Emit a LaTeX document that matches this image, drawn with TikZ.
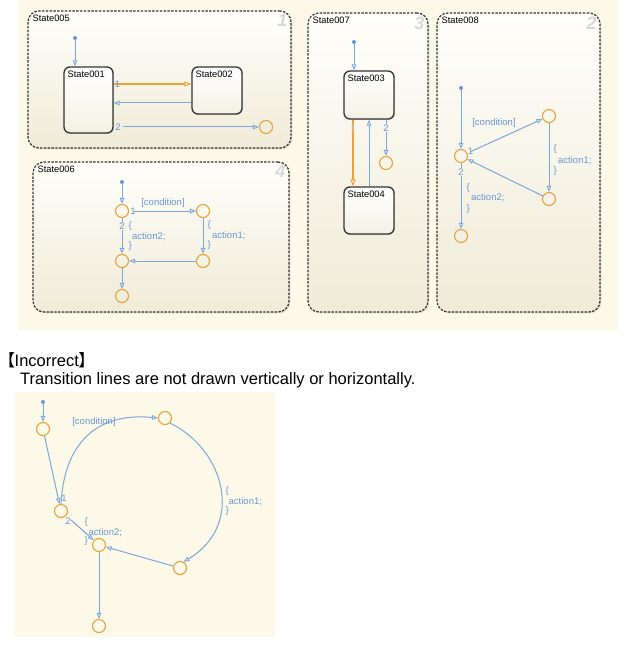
\documentclass[tikz,border=0pt]{standalone}
\usepackage{fontspec}
\setmainfont{Liberation Sans}
\newfontfamily\cjkfont{Noto Sans CJK JP}
\usetikzlibrary{arrows.meta,shadows,calc}

\definecolor{panelbg}{HTML}{FDF9E8}
\definecolor{boxtop}{HTML}{FFFEFA}
\definecolor{boxbot}{HTML}{F0EBD8}
\definecolor{tblue}{HTML}{7BA8DA}
\definecolor{lblue}{HTML}{6797D4}
\definecolor{jorange}{HTML}{E9A23A}
\definecolor{numgray}{HTML}{D8D8D8}

\tikzset{
  container/.style={draw=black!80, dash pattern=on 2.4pt off 1.4pt, line width=1.2pt,
    rounded corners=11pt, top color=boxtop, bottom color=boxbot,
    drop shadow={opacity=0.25, shadow xshift=1.3pt, shadow yshift=-1.3pt}},
  statebox/.style={draw=black!80, line width=1.3pt, rounded corners=6pt,
    top color=white, bottom color=boxbot!70!white,
    drop shadow={opacity=0.25, shadow xshift=1pt, shadow yshift=-1pt}},
  junc/.style={circle, draw=jorange, line width=1.1pt, minimum size=13pt, inner sep=0pt},
  initdot/.style={circle, fill=lblue, minimum size=4pt, inner sep=0pt},
  tip/.style={-{Triangle[open, length=6pt, width=4.5pt, line width=0.9pt]}},
  trans/.style={draw=tblue, line width=1pt, tip},
  otrans/.style={draw=jorange, line width=2.8pt,
    -{Triangle[open, length=7pt, width=5pt, line width=1pt]}},
  lbl/.style={text=lblue, font=\fontsize{9.5}{11}\selectfont, inner sep=0.5pt},
  numlbl/.style={lbl, fill=boxtop!45!boxbot, inner sep=1pt},
  stname/.style={font=\fontsize{9.3}{11}\selectfont, text=black, inner sep=1pt},
  bignum/.style={text=numgray, font=\fontsize{18}{18}\selectfont\bfseries\itshape, inner sep=0pt},
}

\begin{document}
\begin{tikzpicture}[x=1pt, y=-1pt]
\useasboundingbox (0,0) rectangle (642,655);
\fill[white] (0,0) rectangle (642,655);
\fill[panelbg] (18,0) rectangle (618,330);
\fill[panelbg] (15,392) rectangle (275,637);

% ---------- containers ----------
\node[container, minimum width=263pt, minimum height=137pt,
  label={[stname, anchor=north west, xshift=4pt, yshift=-3pt]north west:State005}] (c005) at (159.5,79.5) {};
\node[bignum, anchor=north east] (n1) at ($(c005.north east)+(-4pt,-4pt)$) {1};

\node[container, minimum width=256pt, minimum height=150pt,
  label={[stname, anchor=north west, xshift=4pt, yshift=-3pt]north west:State006}] (c006) at (161,237) {};
\node[bignum, anchor=north east] (n4) at ($(c006.north east)+(-4pt,-4pt)$) {4};

\node[container, minimum width=120pt, minimum height=299pt,
  label={[stname, anchor=north west, xshift=4pt, yshift=-3pt]north west:State007}] (c007) at (368,162.5) {};
\node[bignum, anchor=north east] (n3) at ($(c007.north east)+(-4pt,-4pt)$) {3};

\node[container, minimum width=163pt, minimum height=299pt,
  label={[stname, anchor=north west, xshift=4pt, yshift=-3pt]north west:State008}] (c008) at (518.5,162.5) {};
\node[bignum, anchor=north east] (n2) at ($(c008.north east)+(-4pt,-4pt)$) {2};

% ---------- State005 ----------
\node[statebox, minimum width=49pt, minimum height=66pt,
  label={[stname, anchor=north west, xshift=3pt, yshift=-3pt]north west:State001}] (s001) at (88.5,100) {};
\node[statebox, minimum width=50pt, minimum height=47pt,
  label={[stname, anchor=north west, xshift=3pt, yshift=-3pt]north west:State002}] (s002) at (217,90.5) {};
\node[initdot] (i5) at (75,38) {};
\node[junc] (j5) at (266,127) {};
\draw[trans] (i5) -- (s001.north -| i5);
\draw[otrans] (s001.east |- 0,84) -- (s002.west |- 0,84);
\node[lbl] (l5a) at (117.5,84) {1};
\draw[trans] (s002.west |- 0,103) -- (s001.east |- 0,103);
\draw[trans, shorten <=9pt] (s001.east |- j5) -- (j5);
\node[lbl] (l5b) at (118,127) {2};

% ---------- State006 ----------
\node[initdot] (i6) at (122,182) {};
\node[junc] (a6) at (122,211) {};
\node[junc] (b6) at (203,211) {};
\node[junc] (c6) at (122,261) {};
\node[junc] (d6) at (203,261) {};
\node[junc] (e6) at (122,296) {};
\draw[trans] (i6) -- (a6);
\draw[trans, shorten <=5pt] (a6) -- (b6);
\node[lbl] (l6a) at (133,211) {1};
\node[lbl] (l6c) at (163,203) {[condition]};
\draw[trans] (b6) -- (d6);
\node[lbl, anchor=west] (l6d) at (207,225) {\{};
\node[lbl, anchor=west] (l6e) at (211.5,236) {action1;};
\node[lbl, anchor=west] (l6f) at (207,245.5) {\}};
\draw[trans] (a6) -- (c6);
\node[numlbl] (l6b) at (122,226) {2};
\node[lbl, anchor=west] (l6g) at (128,226) {\{};
\node[lbl, anchor=west] (l6h) at (131.5,237) {action2;};
\node[lbl, anchor=west] (l6i) at (128,246) {\}};
\draw[trans] (d6) -- (c6);
\draw[trans] (c6) -- (e6);

% ---------- State007 ----------
\node[statebox, minimum width=50pt, minimum height=48pt,
  label={[stname, anchor=north west, xshift=3pt, yshift=-3pt]north west:State003}] (s003) at (369,95) {};
\node[statebox, minimum width=50pt, minimum height=47pt,
  label={[stname, anchor=north west, xshift=3pt, yshift=-3pt]north west:State004}] (s004) at (369,210.5) {};
\node[initdot] (i7) at (354,42) {};
\node[junc] (j7) at (386,163) {};
\draw[trans] (i7) -- (s003.north -| i7);
\draw[otrans] (s003.south -| 353,0) -- (s004.north -| 353,0);
\node[lbl, text=lblue!45!white] (l7a) at (353,128) {1};
\draw[trans] (s004.north -| 369,0) -- (s003.south -| 369,0);
\draw[trans] (s003.south -| j7) -- (j7);
\node[numlbl, fill=boxtop!60!boxbot] (l7b) at (386,128) {2};

% ---------- State008 ----------
\node[initdot] (i8) at (461,88) {};
\node[junc] (p8) at (461,156) {};
\node[junc] (q8) at (549,116) {};
\node[junc] (r8) at (549,199) {};
\node[junc] (s8) at (461,236) {};
\draw[trans] (i8) -- (p8);
\draw[trans, shorten <=4pt] (p8) -- (q8);
\node[lbl] (l8a) at (470.5,151) {1};
\node[lbl] (l8c) at (494,123) {[condition]};
\draw[trans] (q8) -- (r8);
\node[lbl, anchor=west] (l8d) at (553,149) {\{};
\node[lbl, anchor=west] (l8e) at (557.5,161) {action1;};
\node[lbl, anchor=west] (l8f) at (553,171) {\}};
\draw[trans] (r8) -- (p8);
\draw[trans] (p8) -- (s8);
\node[numlbl] (l8b) at (461,172) {2};
\node[lbl, anchor=west] (l8g) at (466,188) {\{};
\node[lbl, anchor=west] (l8h) at (470.5,198) {action2;};
\node[lbl, anchor=west] (l8i) at (466,209) {\}};

% ---------- heading ----------
\node[anchor=base west, inner sep=0pt, font=\fontsize{16.5}{18}\selectfont] (hd1) at (-1.5,366)
  {{\cjkfont 【}\kern-0.5pt Incorrect\kern-0.5pt{\cjkfont 】}};
\node[anchor=base west, inner sep=0pt, font=\fontsize{16.5}{18}\selectfont] (hd2) at (20,384)
  {Transition lines are not drawn vertically or horizontally.};

% ---------- incorrect example ----------
\node[initdot] (bi) at (43,402) {};
\node[junc] (b1) at (43,429) {};
\node[junc] (b2) at (165,418) {};
\node[junc] (b3) at (61,511) {};
\node[junc] (b4) at (99,545) {};
\node[junc] (b5) at (180,568) {};
\node[junc] (b6) at (99,626) {};
\draw[trans] (bi) -- (b1);
\draw[trans] (b1) -- (b3);
\node[lbl] (lb1) at (64,498) {1};
\draw[trans] (b3.north) .. controls (64,445) and (95,412) .. (b2.west);
\node[lbl] (lb2) at (94,422) {[condition]};
\draw[trans] (b2.south east) .. controls (225,450) and (245,525) .. (b5.60);
\node[lbl, anchor=west] (lb3) at (225,491) {\{};
\node[lbl, anchor=west] (lb4) at (228,502) {action1;};
\node[lbl, anchor=west] (lb5) at (225,511) {\}};
\draw[trans] (b5) -- (b4);
\draw[trans, shorten <=6pt] (b3) -- (b4);
\node[lbl] (lb6) at (68,521) {2};
\node[lbl, anchor=west] (lb7) at (84,522) {\{};
\node[lbl, anchor=west] (lb8) at (88,533) {action2;};
\node[lbl, anchor=west] (lb9) at (84,541) {\}};
\draw[trans] (b4) -- (b6);
\end{tikzpicture}
\end{document}
